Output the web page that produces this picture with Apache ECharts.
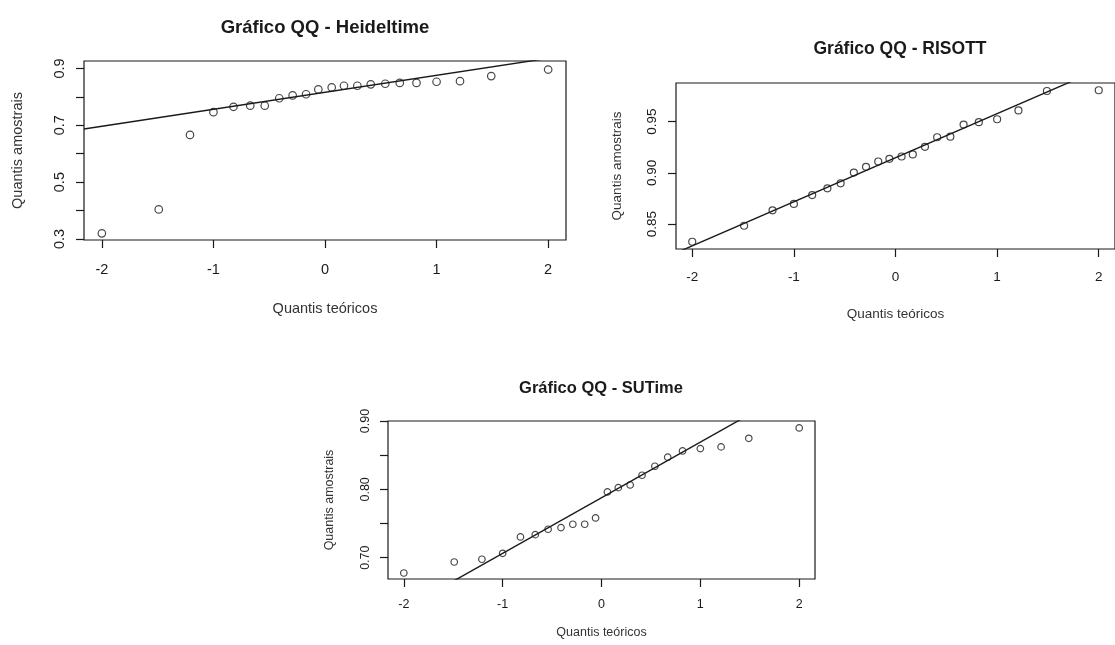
<!DOCTYPE html>
<html>
<head>
<meta charset="utf-8">
<script src="https://cdn.jsdelivr.net/npm/echarts@6/dist/echarts.min.js"></script>
<style>
html,body{margin:0;padding:0;background:#fff;}
#chart{width:1115px;height:645px;}
</style>
</head>
<body>
<div id="chart"></div>
<script>
// Theoretical quantiles (shared x positions of all three panels)
const theoQuantiles = [-2.00, -1.49, -1.21, -1.00, -0.82, -0.67, -0.54, -0.41, -0.29, -0.17, -0.06,
                        0.06, 0.17, 0.29, 0.41, 0.54, 0.67, 0.82, 1.00, 1.21, 1.49, 2.00];

// Sample quantiles
const heideltimeSample = [0.320, 0.404, 0.666, 0.746, 0.765, 0.769, 0.769, 0.795, 0.805, 0.809, 0.826,
                          0.833, 0.839, 0.839, 0.844, 0.846, 0.849, 0.849, 0.853, 0.855, 0.873, 0.896];
const risottSample = [0.8327, 0.8483, 0.8634, 0.8696, 0.8783, 0.8849, 0.8898, 0.9003, 0.9059, 0.9111, 0.9137,
                      0.9160, 0.9180, 0.9254, 0.9348, 0.9354, 0.9472, 0.9495, 0.9524, 0.9610, 0.9800, 0.9807];
const sutimeSample = [0.6776, 0.6937, 0.6977, 0.7064, 0.7303, 0.7337, 0.7416, 0.7440, 0.7489, 0.7489, 0.7581,
                      0.7962, 0.8025, 0.8064, 0.8206, 0.8338, 0.8470, 0.8562, 0.8596, 0.8621, 0.8747, 0.8898];

// Reference (qqline) endpoints read at x = -2.16 and x = 2.16
const lineX = [-2.16, 2.16];
const heideltimeLineY = [0.687, 0.945];
const risottLineY = [0.8218, 1.0078];
const sutimeLineY = [0.6119, 0.9635];

// Axis ranges and ticks
const xRange = [-2.16, 2.16];
const xTicks = [-2, -1, 0, 1, 2];
const heideltimeYRange = [0.2965, 0.926];
const heideltimeYTicks = [0.3, 0.4, 0.5, 0.6, 0.7, 0.8, 0.9];
const heideltimeYLabels = [0.3, 0.5, 0.7, 0.9];
const risottYRange = [0.8256, 0.9878];
const risottYTicks = [0.85, 0.90, 0.95];
const risottYLabels = [0.85, 0.90, 0.95];
const sutimeYRange = [0.6688, 0.90];
const sutimeYTicks = [0.70, 0.75, 0.80, 0.85, 0.90];
const sutimeYLabels = [0.70, 0.80, 0.90];

const titles = ['Gráfico QQ - Heideltime', 'Gráfico QQ - RISOTT', 'Gráfico QQ - SUTime'];
const xName = 'Quantis teóricos';
const yName = 'Quantis amostrais';

const FONT = "'Liberation Sans', Arial, sans-serif";
const INK = '#1a1a1a';

const panels = [
  {grid:{left:84, top:61, width:482, height:179}, yr:heideltimeYRange, yt:heideltimeYTicks, yl:heideltimeYLabels, dec:1,
   sample:heideltimeSample, lineY:heideltimeLineY, fs:14.5, tfs:18.5, tcx:325, tty:18, sym:7.5,
   xlm:22, xng:61, ylm:17, yng:59},
  {grid:{left:676, top:83, width:448, height:166}, yr:risottYRange, yt:risottYTicks, yl:risottYLabels, dec:2,
   sample:risottSample, lineY:risottLineY, fs:13.5, tfs:17.5, tcx:900, tty:40, sym:7,
   xlm:21, xng:58, ylm:17, yng:52},
  {grid:{left:388, top:421, width:427, height:158}, yr:sutimeYRange, yt:sutimeYTicks, yl:sutimeYLabels, dec:2,
   sample:sutimeSample, lineY:sutimeLineY, fs:12.5, tfs:16.5, tcx:601, tty:380, sym:6.5,
   xlm:19, xng:47, ylm:16, yng:52}
];

const option = {
  backgroundColor: '#fff',
  animation: false,
  title: panels.map((p, i) => ({
    text: titles[i], left: p.tcx, top: p.tty, textAlign: 'center', padding: 0,
    textStyle: {fontFamily: FONT, fontWeight: 'bold', fontSize: p.tfs, color: INK}
  })),
  grid: panels.map(p => Object.assign({show: true, borderColor: INK, borderWidth: 1.2, backgroundColor: 'transparent', containLabel: false}, p.grid)),
  xAxis: panels.map((p, i) => ({
    type: 'value', gridIndex: i, min: xRange[0], max: xRange[1],
    name: xName, nameLocation: 'middle', nameGap: p.xng,
    nameTextStyle: {fontFamily: FONT, fontSize: p.fs, color: '#333'},
    axisLine: {show: false, onZero: false},
    splitLine: {show: false},
    axisTick: {show: true, length: 8, inside: false, customValues: xTicks, lineStyle: {color: INK, width: 1.2}},
    axisLabel: {show: true, customValues: xTicks, margin: p.xlm, fontFamily: FONT, fontSize: p.fs, color: INK,
                formatter: v => String(Math.round(v))}
  })),
  yAxis: panels.map((p, i) => ({
    type: 'value', gridIndex: i, min: p.yr[0], max: p.yr[1],
    name: yName, nameLocation: 'middle', nameGap: p.yng, nameRotate: 90,
    nameTextStyle: {fontFamily: FONT, fontSize: p.fs, color: '#333'},
    axisLine: {show: false, onZero: false},
    splitLine: {show: false},
    axisTick: {show: true, length: 8, inside: false, customValues: p.yt, lineStyle: {color: INK, width: 1.2}},
    axisLabel: {show: true, customValues: p.yl, rotate: 90, margin: p.ylm, fontFamily: FONT, fontSize: p.fs, color: INK,
                formatter: v => Number(v).toFixed(p.dec)}
  })),
  series: []
};

panels.forEach((p, i) => {
  option.series.push({
    type: 'scatter', xAxisIndex: i, yAxisIndex: i,
    symbol: 'circle', symbolSize: p.sym,
    itemStyle: {color: 'rgba(0,0,0,0)', borderColor: INK, borderWidth: 1.2},
    data: theoQuantiles.map((x, k) => [x, p.sample[k]]),
    z: 2
  });
  option.series.push({
    type: 'line', xAxisIndex: i, yAxisIndex: i,
    clip: true, symbol: 'none', silent: true,
    lineStyle: {color: INK, width: 1.4},
    data: lineX.map((x, k) => [x, p.lineY[k]]),
    z: 3
  });
});

const chart = echarts.init(document.getElementById('chart'), null, {renderer: 'canvas'});
chart.setOption(option);
</script>
</body>
</html>
